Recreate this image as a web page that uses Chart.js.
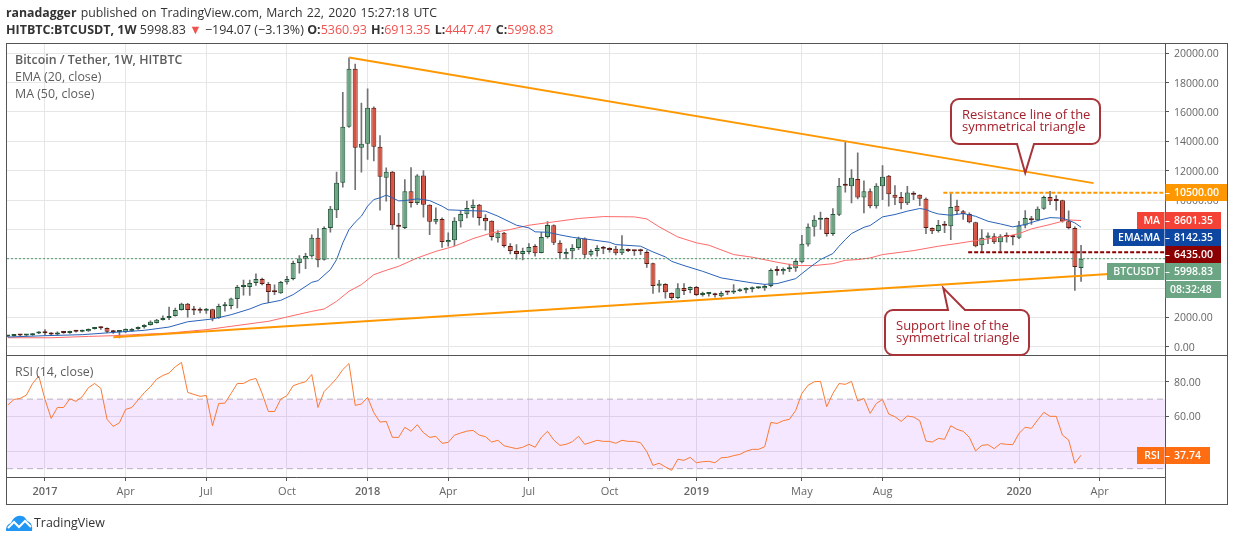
<!DOCTYPE html>
<html>
<head>
<meta charset="utf-8">
<title>BTCUSDT</title>
<script src="https://cdn.jsdelivr.net/npm/chart.js@4"></script>
<style>
body { margin: 0; background: #fff; font-family: "Open Sans", sans-serif; color: #333; }
#wrap { position: relative; width: 1234px; height: 541px; overflow: hidden; }
canvas { position: absolute; left: 0; top: 0; }
.head { position: absolute; left: 6px; font-size: 12.5px; white-space: nowrap; }
.head b { font-weight: 700; }
.red { color: #f0524f; }
.gap { margin-left: 1px; }
#logo { position: absolute; left: 6px; top: 515px; }
#brand { position: absolute; left: 34px; top: 514px; font-size: 12.4px; color: #333; }
</style>
</head>
<body>
<div id="wrap">
  <canvas id="chart" width="1234" height="541"></canvas>
  <div class="head" style="top:4px;font-size:12.3px;word-spacing:1px"><b>ranadagger</b> published on TradingView.com, March 22, 2020 15:27:18 UTC</div>
  <div class="head" style="top:21px"><b>HITBTC:BTCUSDT, 1W</b> 5998.83 <span class="red">▼</span> −194.07 (−3.13%) <b>O:</b><span class="red">5360.93</span> <b class="gap">H:</b><span class="red">6913.35</span> <b class="gap">L:</b><span class="red">4447.47</span> <b class="gap">C:</b><span class="red">5998.83</span></div>
  <svg id="logo" width="27" height="16" viewBox="0 0 27 16"><path d="M0 16 C0 11 2 9 5 8 C7 3 11 0 15 1 C18 1 20 3 21 6 C25 7 27 11 26 16 Z" fill="#2196f3"/><path d="M2 13 L8 7 L13 12 L19 6 L25 12" fill="none" stroke="#fff" stroke-width="2"/></svg>
  <div id="brand">TradingView</div>
</div>
<script>
// weekly bars, week 0 is the first week of 2017, first bar is week -6
var firstWeek = -6;
var opens = [
  700,730,770,760,775,905,1020,950,830,975,
  930,1040,1020,1060,1200,1290,1270,1025,1000,1000,
  1050,1200,1340,1480,1620,1820,1960,2090,2500,2930,
  2500,2460,2450,2550,1950,2760,2780,3260,4070,4070,
  4350,4620,4280,3730,3640,4400,4620,5710,6000,6170,
  7420,5920,8100,9300,11170,15000,18950,13560,13830,16290,
  13630,11510,11920,8280,8100,10600,9800,11670,9670,8510,
  8710,7120,7260,8550,9030,9460,9670,8780,8580,7390,
  7760,6870,6530,6320,6460,6870,6390,7480,8280,7080,
  6300,6500,6730,7370,6260,6530,6730,6660,6670,6370,
  6600,6530,6510,6460,5690,4160,4280,3660,3320,4000,
  3870,4070,3530,3600,3620,3440,3700,3690,3780,3840,
  3910,3980,3980,4140,5230,5140,5280,5350,5760,6960,
  8170,8650,8780,7690,8990,10980,10940,11440,10170,10600,
  9580,10940,11650,10350,10210,9780,10400,10350,10080,8100,
  7890,8300,8210,9600,9240,9050,8490,6920,7420,7530,
  7120,7620,7480,7420,8260,8740,8620,9400,10210,9950,
  9990,8550,8100,5360.93
];
var highs = [
  745,790,790,800,915,1030,1160,960,1010,1000,
  1060,1070,1130,1220,1320,1350,1280,1110,1060,1210,
  1230,1350,1500,1760,1860,2110,2700,2640,2980,2950,
  2760,2650,2620,2560,2900,3020,3320,4190,4540,4540,
  4960,4680,4390,4220,4460,4800,5830,6210,6360,7620,
  8060,8170,9570,11900,17340,19700,19270,16600,17580,16350,
  14400,12190,11960,9100,11400,12217,11740,12010,9670,9460,
  8780,7760,8800,9260,9920,10010,9710,9010,8580,7920,
  7800,7030,6960,6730,7030,6960,7800,8530,8300,7230,
  6670,6960,7480,7420,6620,6890,6850,6750,6850,7580,
  6680,6580,6650,6550,5700,4530,4300,3680,4300,4300,
  4080,4120,3730,3710,3660,3750,3750,4230,3960,4020,
  4080,4080,4230,5300,5460,5370,5640,5940,7600,8370,
  8940,9170,8790,9420,11470,14010,12080,13220,11300,10760,
  11120,12350,11680,10990,10530,10940,10580,10360,10150,8110,
  8620,8550,10440,9990,9290,9120,8500,7990,7760,7710,
  7640,7760,7600,8550,9280,8890,9530,10260,10600,10300,
  10000,9260,8170,6913.35
];
var lows = [
  690,710,745,740,765,880,790,760,780,900,
  900,990,1000,1040,1190,1180,950,900,600,960,
  1040,1180,1260,1460,1600,1800,1840,2080,2490,2020,
  2190,2300,2270,1750,1930,2420,2570,2640,3520,3500,
  4170,4210,3000,3540,3640,4270,4550,5010,5320,6100,
  5430,5900,7800,8790,10880,14950,10710,11900,12760,12660,
  9300,9920,8000,6050,8050,9510,9690,8830,7640,8370,
  6760,6850,6890,8140,8780,8830,8280,7940,7260,7120,
  6780,6320,5960,5910,6320,6170,6390,7390,6960,6050,
  5980,6050,6620,6050,6170,6170,6350,6440,6260,6280,
  6480,6230,6280,5410,3640,3710,3300,3210,3280,3550,
  3660,3480,3440,3440,3370,3400,3550,3620,3760,3660,
  3730,3960,3840,4070,4870,4940,5120,5140,5710,6850,
  7530,7990,7530,7580,8940,10530,9800,10080,9120,9460,
  9440,10030,9580,9690,9400,9690,10030,9620,7710,7710,
  7800,7780,7300,9010,8670,8440,6800,6510,7030,7030,
  6510,7120,6940,7370,8100,8330,8580,9350,9690,9300,
  8490,8030,3840,4447.47
];
var closes = [
  735,770,760,790,905,1015,915,825,975,930,
  1040,1020,1110,1200,1290,1260,1025,990,1040,1200,
  1200,1340,1480,1700,1840,1960,2090,2500,2930,2500,
  2460,2450,2550,1930,2770,2800,3280,4070,4080,4350,
  4620,4280,3730,3720,4410,4620,5710,6010,6190,7420,
  5890,8100,9400,11170,15000,18950,13560,13830,16290,13630,
  11580,11920,8280,8170,10600,9800,11670,9670,8510,8710,
  7140,7280,8580,9050,9460,9670,8780,8550,7480,7760,
  6870,6530,6320,6530,6800,6370,7480,8300,7080,6390,
  6460,6730,7370,6260,6530,6730,6670,6600,6370,6670,
  6530,6510,6500,5640,4140,4300,3710,3320,3980,3800,
  4070,3530,3640,3620,3500,3660,3690,3720,3870,4000,
  3980,4000,4140,5230,5160,5300,5370,5850,7010,8170,
  8650,8780,7690,9050,10970,10970,11510,10170,10600,9580,
  10970,11580,10400,10150,9780,10510,10350,10080,8100,7870,
  8300,8240,9530,9240,9050,8490,6850,7420,7580,7120,
  7530,7480,7460,8260,8780,8620,9400,10210,9920,9940,
  8550,8100,5440,5998.83
];
var rsiValues = [
  66.6,69.8,70.4,72.3,79,83.3,69.8,58.9,65.2,65.2,
  70.2,68.7,71.4,76.6,79,76.2,58.4,54.3,56.4,64.1,
  65.2,69.5,73.7,77.1,81.5,83.6,85,88.6,91.1,73.9,
  72.7,71.6,72.1,54.7,67.5,67.7,73.3,79,79,81,
  81.9,73.3,62.9,62.9,70,72,77.7,79,80,84.2,
  65.2,74.4,78,81.9,87,90.5,66.4,67.2,71,62.2,
  56.8,57.2,48,48,53.8,51.5,55.3,50.7,48,48.6,
  44.6,45.1,49.3,50.5,51.6,52,49.3,48.4,45.3,46.3,
  43.2,42.3,41.5,42.3,44,42.3,48,51.5,46.5,43.4,
  44,45.5,48.6,44,45.1,46.3,45.7,45.7,44.6,46.3,
  45.7,45.7,44.9,39.8,31.9,33.1,31,29,35.4,34.8,
  36.5,33.4,34,34.2,33.4,36.3,36.5,37.5,38.2,40,
  41.1,41.1,42.6,56.6,56,57.6,58.4,63.5,73.3,78,
  80,80.2,65.6,73.3,79,78.5,80.2,68.9,70.4,61.8,
  67.5,69.8,61.4,59.9,57.2,60.3,59.7,57.6,45.9,45.3,
  47.4,46.9,54.7,52.6,51.5,48,40.2,43.4,43.8,41.5,
  44.4,44,43.8,50.3,53.8,53.2,58,62.4,60.1,60.1,
  49.3,46.5,33.1,37.74
];
var emaWeeks = [-6,0,6,12,16,20,23,27,30,33,35,38,40,43,44,46,47,48,49,50,51,52,53,54,55,56,57,58,60,62,64,65,68,71,73,76,78,79,81,83,85,87,91,92,96,98,100,101,103,106,109,111,114,116,118,121,122,123,125,127,128,129,130,132,133,135,137,139,141,142,143,144,146,148,150,152,154,156,158,160,162,164,165,166,167];
var emaValues = [660,750,820,1000,1115,1340,1700,1890,2180,2570,2910,3160,3550,4390,4500,5255,5940,7075,7985,8490,8900,9580,10030,10150,10330,10150,9940,9960,10080,9960,9580,9330,9280,9240,8900,8280,8100,7830,7800,7620,7460,7350,7120,6960,6850,6460,6120,5820,5530,5140,4690,4550,4350,4250,4300,4640,4980,5320,5940,6350,6850,7300,7710,8140,8260,8850,9010,9240,9420,9350,9170,9050,8960,9080,8890,8550,8370,8170,8330,8600,8800,8760,8620,8440,8142.35];
var maWeeks = [-6,1,7,11,20,26,30,36,39,43,45,47,49,51,53,55,57,60,63,66,69,72,75,78,82,86,90,95,97,99,102,105,107,111,114,118,121,124,127,129,131,133,135,140,144,147,150,155,157,159,162,164,165,167];
var maValues = [610,610,700,750,930,1160,1390,1730,2025,2410,2570,3090,3780,4230,4910,5210,5480,6050,6500,6850,7370,7760,7990,8280,8510,8740,8870,8850,8710,8170,7480,7080,6920,6280,6100,5760,5530,5530,5660,5890,5940,6050,6280,6550,6850,7030,7230,7530,7710,8030,8330,8550,8640,8601.35];

var priceTicks = [0,2000,4000,6000,8000,10000,12000,14000,16000,18000,20000];
var rsiTicks = [40,60,80];
var rsiBand = [70,30];
var timeTickWeeks = [0,13,26,39,52,65,78,91,105,122,135,157,170];
var timeTickLabels = ['2017','Apr','Jul','Oct','2018','Apr','Jul','Oct','2019','May','Aug','2020','Apr'];

// trend lines and levels as [week, price]
var resistanceLine = [[49,19710],[169,11150]];
var supportLine = [[11,640],[171.5,4950]];
var level10500 = 10500;
var level6435 = 6435;
var lastClose = 5998.83;

var FONT = '"Open Sans", sans-serif';
var xMin = -6.125, xMax = 180.53;
var weeks = opens.map(function (_, k) { return firstWeek + k; });

function levelLine(week, y) {
    return [{ x: week, y: y }, { x: xMax, y: y }];
}
function pairs(a) {
    return a.map(function (p) { return { x: p[0], y: p[1] }; });
}
function zipped(xs, ys) {
    return xs.map(function (x, k) { return { x: x, y: ys[k] }; });
}
function isUp(k) { return closes[k] >= opens[k]; }

var lineBase = { type: 'line', pointRadius: 0, tension: 0, yAxisID: 'y', fill: false };

var datasets = [
    { type: 'bar', order: 9, grouped: false, barThickness: 1, yAxisID: 'y', backgroundColor: '#737375',
      data: weeks.map(function (w, k) { return { x: w, y: [lows[k], highs[k]] }; }) },
    { type: 'bar', order: 8, grouped: false, barThickness: 5, minBarLength: 2, yAxisID: 'y', borderWidth: 1, borderSkipped: false, inflateAmount: 0,
      backgroundColor: weeks.map(function (w, k) { return isUp(k) ? '#6ba583' : '#d75442'; }),
      borderColor: weeks.map(function (w, k) { return isUp(k) ? '#225437' : '#5b1a13'; }),
      data: weeks.map(function (w, k) { return { x: w, y: [opens[k], closes[k]] }; }) },
    Object.assign({}, lineBase, { order: 7, borderColor: '#ff6a6a', borderWidth: 1, data: zipped(maWeeks, maValues) }),
    Object.assign({}, lineBase, { order: 6, borderColor: '#2a62b8', borderWidth: 1, data: zipped(emaWeeks, emaValues) }),
    Object.assign({}, lineBase, { order: 5, borderColor: '#4f9a70', borderWidth: 1, borderDash: [2, 2], data: levelLine(xMin, lastClose) }),
    Object.assign({}, lineBase, { order: 4, borderColor: '#ff9800', borderWidth: 2, borderDash: [4, 2], data: levelLine(144.8, level10500) }),
    Object.assign({}, lineBase, { order: 3, borderColor: '#8b0000', borderWidth: 2, borderDash: [4, 2], data: levelLine(148.8, level6435) }),
    Object.assign({}, lineBase, { order: 2, borderColor: '#ff9800', borderWidth: 2, data: pairs(resistanceLine) }),
    Object.assign({}, lineBase, { order: 2, borderColor: '#ff9800', borderWidth: 2, data: pairs(supportLine) }),
    Object.assign({}, lineBase, { order: 12, yAxisID: 'rsi', borderColor: '#b9afc0', borderWidth: 1, borderDash: [6, 4], fill: '+1', backgroundColor: 'rgba(153,21,255,0.1)', data: levelLine(xMin, rsiBand[0]) }),
    Object.assign({}, lineBase, { order: 11, yAxisID: 'rsi', borderColor: '#b9afc0', borderWidth: 1, borderDash: [6, 4], data: levelLine(xMin, rsiBand[1]) }),
    Object.assign({}, lineBase, { order: 1, yAxisID: 'rsi', borderColor: '#fb7a33', borderWidth: 1, data: zipped(weeks, rsiValues) })
];

// tags on the price axis, stacked so they do not overlap
var axisTags = [
    { text: '10500.00', top: 184, h: 17, bg: '#ff9800', right: 1227 },
    { name: 'MA', nameLeft: 1137, text: '8601.35', top: 212, h: 17, bg: '#f44336' },
    { name: 'EMA:MA', nameLeft: 1113, text: '8142.35', top: 229, h: 17, bg: '#0d47a1' },
    { text: '6435.00', top: 246, h: 17, bg: '#8b0000' },
    { name: 'BTCUSDT', nameLeft: 1107, text: '5998.83', top: 263, h: 17, bg: '#6ba583' },
    { text: '08:32:48', top: 281, h: 17, bg: '#6ba583', noTick: true },
    { name: 'RSI', nameLeft: 1137, text: '37.74', top: 447, h: 17, bg: '#ff6d13', right: 1210 }
];
var callouts = [
    { lines: ['Resistance line of the', 'symmetrical triangle'], x0: 951, x1: 1100, y0: 99, y1: 144, tip: [158, 11840], base0: 1017, base1: 1034, onBottom: true, textX: 962, textY: [115, 127] },
    { lines: ['Support line of the', 'symmetrical triangle'], x0: 885, x1: 1029, y0: 310, y1: 355, tip: [144.8, 3990], base0: 948, base1: 965, onBottom: false, textX: 896, textY: [326, 338] }
];
var paneTexts = [
    { text: 'Bitcoin / Tether, 1W, HITBTC', y: 60, weight: '600' },
    { text: 'EMA (20, close)', y: 77, weight: '400' },
    { text: 'MA (50, close)', y: 94, weight: '400' },
    { text: 'RSI (14, close)', y: 372, weight: '400' }
];

function drawCallout(ctx, chart, c) {
    var tx = chart.scales.x.getPixelForValue(c.tip[0]);
    var ty = chart.scales.y.getPixelForValue(c.tip[1]);
    var r = 8;
    ctx.beginPath();
    ctx.moveTo(c.x0 + r, c.y0);
    if (!c.onBottom) { ctx.lineTo(c.base0, c.y0); ctx.lineTo(tx, ty); ctx.lineTo(c.base1, c.y0); }
    ctx.arcTo(c.x1, c.y0, c.x1, c.y1, r);
    ctx.arcTo(c.x1, c.y1, c.x0, c.y1, r);
    if (c.onBottom) { ctx.lineTo(c.base1, c.y1); ctx.lineTo(tx, ty); ctx.lineTo(c.base0, c.y1); }
    ctx.arcTo(c.x0, c.y1, c.x0, c.y0, r);
    ctx.arcTo(c.x0, c.y0, c.x1, c.y0, r);
    ctx.closePath();
    ctx.fillStyle = '#fff';
    ctx.fill();
    ctx.strokeStyle = '#a8343a';
    ctx.lineWidth = 2;
    ctx.stroke();
    ctx.fillStyle = '#a31f2a';
    ctx.font = '13px ' + FONT;
    ctx.textAlign = 'left';
    ctx.textBaseline = 'middle';
    c.lines.forEach(function (t, k) { ctx.fillText(t, c.textX, c.textY[k]); });
}

var overlay = {
    id: 'overlay',
    afterDraw: function (chart) {
        var ctx = chart.ctx;
        ctx.save();
        // frame
        ctx.strokeStyle = '#555';
        ctx.lineWidth = 1;
        ctx.strokeRect(6.5, 43.5, 1221, 461);
        ctx.beginPath();
        ctx.moveTo(6.5, 355.5); ctx.lineTo(1227.5, 355.5);
        ctx.moveTo(6.5, 477.5); ctx.lineTo(1165.5, 477.5);
        ctx.moveTo(1165.5, 43.5); ctx.lineTo(1165.5, 504.5);
        ctx.stroke();

        paneTexts.forEach(function (t) {
            ctx.font = t.weight + ' 12.4px ' + FONT;
            ctx.fillStyle = '#5d5d5d';
            ctx.textAlign = 'left';
            ctx.textBaseline = 'middle';
            ctx.fillText(t.text, 15, t.y);
        });

        callouts.forEach(function (c) { drawCallout(ctx, chart, c); });

        axisTags.forEach(function (t) {
            var right = t.right || 1221;
            var mid = t.top + t.h / 2;
            ctx.fillStyle = t.bg;
            ctx.fillRect(1165.5, t.top, right - 1165.5, t.h);
            ctx.textBaseline = 'middle';
            ctx.font = '600 10.5px ' + FONT;
            if (t.name) {
                ctx.fillRect(t.nameLeft, t.top, 1164.5 - t.nameLeft, t.h);
                ctx.fillStyle = '#fff';
                ctx.textAlign = 'right';
                ctx.fillText(t.name, 1160, mid + 0.5);
            }
            ctx.fillStyle = '#fff';
            ctx.textAlign = 'left';
            ctx.fillText(t.text, t.noTick ? 1170 : 1174, mid + 0.5);
            if (!t.noTick) { ctx.fillRect(1165.5, Math.round(mid), 4, 1); }
        });
        ctx.restore();
    }
};

var axisColor = '#666';
var gridColor = '#e6e6e6';
var tickFont = { family: FONT, size: 10.5 };

new Chart(document.getElementById('chart').getContext('2d'), {
    type: 'bar',
    data: { datasets: datasets },
    plugins: [overlay],
    options: {
        responsive: false,
        animation: false,
        devicePixelRatio: 1,
        layout: { padding: { left: 7, top: 44, right: 7, bottom: 37 } },
        plugins: { legend: { display: false }, tooltip: { enabled: false } },
        scales: {
            x: {
                type: 'linear', min: xMin, max: xMax, offset: false,
                afterBuildTicks: function (s) { s.ticks = timeTickWeeks.map(function (v) { return { value: v }; }); },
                afterFit: function (s) { s.height = 27; },
                grid: { color: gridColor, offset: false, tickLength: 4, tickColor: '#555', drawOnChartArea: true },
                border: { display: false },
                ticks: {
                    autoSkip: false, maxRotation: 0, padding: 4, color: '#666',
                    font: function (c) {
                        var yr = /^\d+$/.test(timeTickLabels[c.index] || '');
                        return { family: FONT, size: 11, weight: yr ? '600' : '400' };
                    },
                    callback: function (v, k) { return timeTickLabels[k]; }
                }
            },
            y: {
                position: 'right', stack: 'panes', stackWeight: 311.5,
                min: -600, max: 20635,
                afterBuildTicks: function (s) { s.ticks = priceTicks.map(function (v) { return { value: v }; }); },
                afterFit: function (s) { s.width = 62; },
                grid: { color: gridColor, tickLength: 4, tickColor: '#555' },
                border: { display: false },
                ticks: { autoSkip: false, padding: 5, labelOffset: 1, color: axisColor, font: tickFont, callback: function (v) { return v.toFixed(2); } }
            },
            rsi: {
                position: 'right', stack: 'panes', stackWeight: 121.5,
                min: 25.2, max: 95.1,
                afterBuildTicks: function (s) { s.ticks = rsiTicks.map(function (v) { return { value: v }; }); },
                afterFit: function (s) { s.width = 62; },
                grid: { color: gridColor, tickLength: 4, tickColor: '#555' },
                border: { display: false },
                ticks: { autoSkip: false, padding: 5, labelOffset: 1, color: axisColor, font: tickFont, callback: function (v) { return v.toFixed(2); } }
            }
        }
    }
});
</script>
</body>
</html>
